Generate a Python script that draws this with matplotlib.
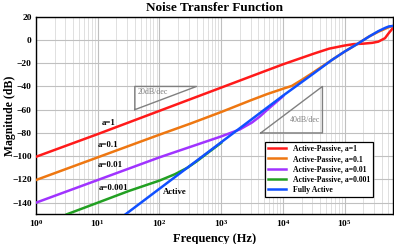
import matplotlib
matplotlib.use("Agg")
import matplotlib.pyplot as plt
from matplotlib.ticker import LogLocator, FixedLocator

plt.rcParams['font.family'] = ['Liberation Serif', 'DejaVu Serif']
plt.rcParams['font.weight'] = 'bold'
plt.rcParams['mathtext.fontset'] = 'custom'
plt.rcParams['mathtext.rm'] = 'Liberation Serif:bold'
plt.rcParams['mathtext.it'] = 'Liberation Serif:bold'
plt.rcParams['mathtext.bf'] = 'Liberation Serif:bold'

# values (frequency in Hz, magnitude in dB)
red_f = [1, 10, 100, 1e3, 5e3, 1e4, 1.8e4, 3.2e4, 5.6e4, 1e5, 1.4e5, 2e5, 2.8e5, 3.5e5, 4.5e5, 5.2e5, 6e5]
red_db = [-100.5, -81, -61, -41, -27, -21, -16.3, -11.7, -7.5, -4.8, -3.6, -3.2, -2.5, -1.5, 1.5, 6, 10]

orange_f = [1, 10, 100, 316, 1e3, 3.16e3, 5.6e3, 1e4, 1.4e4, 2e4, 2.8e4, 4e4, 6.3e4, 1e5, 1.6e5, 2.5e5, 3.5e5, 4.5e5, 5.2e5, 6e5]
orange_db = [-120.5, -101, -81.5, -72, -62, -51.5, -46.5, -42, -39.5, -34.5, -29.5, -24, -17, -10, -3.5, 3, 7, 9.5, 11, 12]

purple_f = [1, 10, 100, 316, 1e3, 2e3, 3.16e3, 4.2e3, 5.6e3, 1e4]
purple_db = [-140, -120.5, -101, -92, -83, -77, -71, -66, -60, -48.5]

green_f = [3.16, 10, 31.6, 100, 178, 282, 400, 562, 1e3]
green_db = [-150, -140, -130, -121, -115.5, -110, -104.5, -98.5, -88.5]

blue_f = [28.2, 100, 1e3, 1e4, 3.2e4, 6.3e4, 1e5, 1.6e5, 2.5e5, 3.5e5, 4.5e5, 5.2e5, 6e5]
blue_db = [-150, -128, -88, -48, -28.5, -17, -10, -3.5, 3, 7.5, 10.3, 11.6, 12]

labels = ['Active-Passive, a=1', 'Active-Passive, a=0.1', 'Active-Passive, a=0.01',
          'Active-Passive, a=0.001', 'Fully Active']
colors = ['#ff1a1a', '#ee7711', '#a033ff', '#22a022', '#1050ff']

fig = plt.figure(figsize=(3.94, 2.44), dpi=100)
ax = fig.add_axes([0.0914, 0.1217, 0.9053, 0.8099])

series = [(red_f, red_db), (orange_f, orange_db), (purple_f, purple_db),
          (green_f, green_db), (blue_f, blue_db)]
for (f, db), c, lab in zip(series, colors, labels):
    ax.plot(f, db, color=c, lw=1.8, label=lab, zorder=3)

ax.set_xscale('log')
ax.set_xlim(1, 6e5)
ax.set_ylim(-150, 20)
ax.yaxis.set_major_locator(FixedLocator(range(-140, 21, 20)))
ax.xaxis.set_major_locator(LogLocator(base=10, numticks=10))
ax.xaxis.set_minor_locator(LogLocator(base=10, subs=range(2, 10), numticks=20))
ax.grid(True, which='major', color='#c0c0c0', lw=0.8)
ax.grid(True, which='minor', axis='x', color='#dadada', lw=0.6)
ax.tick_params(which='both', direction='in', length=0, labelsize=6.8, pad=3)
for sp in ax.spines.values():
    sp.set_linewidth(1.0)

# slope triangles
gray = '#808080'
ax.plot([10**1.6, 10**1.6, 10**2.6, 10**1.6], [-60, -40, -40, -60], color=gray, lw=1, zorder=2)
ax.text(10**1.65, -45, '20dB/dec', color=gray, fontsize=5.8, va='center', ha='left', fontweight='normal')
ax.plot([10**3.64, 10**4.64, 10**4.64, 10**3.64], [-80, -80, -40, -80], color=gray, lw=1, zorder=2)
ax.text(10**4.6, -69, '40dB/dec', color=gray, fontsize=5.8, va='center', ha='right', fontweight='normal')

# curve labels
ax.text(10**1.17, -71.5, 'a=1', fontsize=6.3, ha='center', va='center')
ax.text(10**1.17, -90, 'a=0.1', fontsize=6.3, ha='center', va='center')
ax.text(10**1.2, -107.7, 'a=0.01', fontsize=6.3, ha='center', va='center')
ax.text(10**1.25, -127.7, 'a=0.001', fontsize=6.3, ha='center', va='center')
ax.text(10**2.25, -130.6, 'Active', fontsize=6.3, ha='center', va='center')

ax.set_title('Noise Transfer Function', fontsize=9.5, fontweight='bold', pad=4)
ax.set_xlabel('Frequency (Hz)', fontsize=9, fontweight='bold')
ax.set_ylabel('Magnitude (dB)', fontsize=8.5, fontweight='bold', va='center')
ax.xaxis.set_label_coords(0.5, -0.095)
ax.yaxis.set_label_coords(-0.074, 0.5)

leg = ax.legend(loc='lower left', bbox_to_anchor=(0.63, 0.067), fontsize=5.6,
                frameon=True, fancybox=False, edgecolor='black', framealpha=1,
                handlelength=2.4, labelspacing=0.3, borderpad=0.4, handletextpad=0.8)
leg.get_frame().set_linewidth(0.9)

fig.savefig('out.png', dpi=100)
